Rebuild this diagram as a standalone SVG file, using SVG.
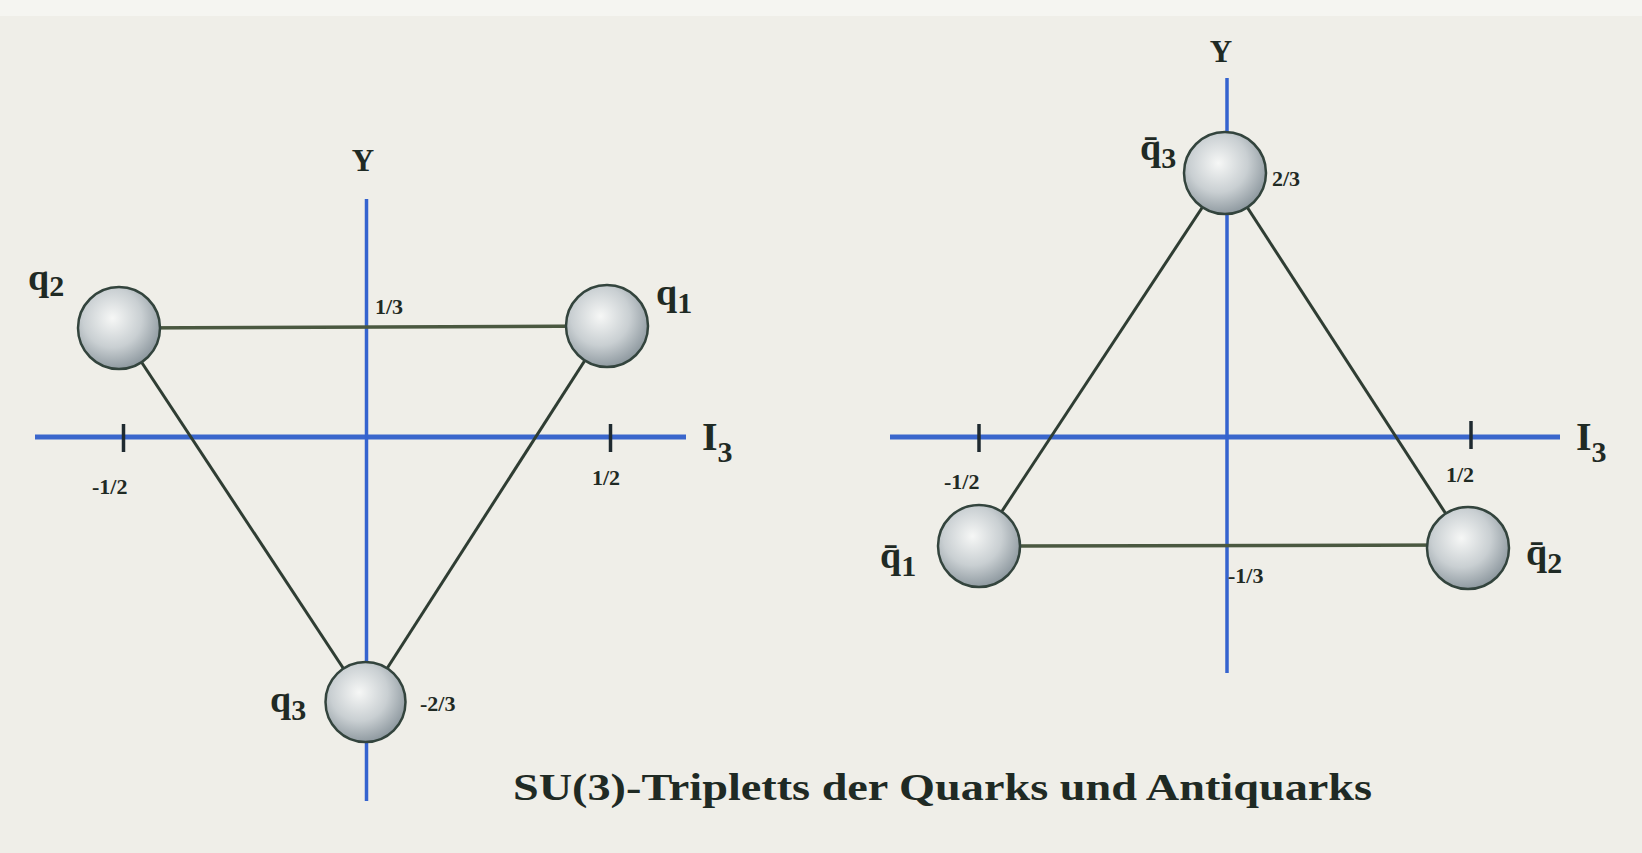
<svg xmlns="http://www.w3.org/2000/svg" width="1642" height="853" viewBox="0 0 1642 853">
<defs>
<radialGradient id="ball" cx="0.42" cy="0.38" r="0.65">
<stop offset="0" stop-color="#f6f7f6"/>
<stop offset="0.55" stop-color="#c9cfd2"/>
<stop offset="1" stop-color="#8a959c"/>
</radialGradient>
<style>
.axis{stroke:#3563cf;stroke-width:3.5;fill:none}
.axh{stroke:#3a66cc;stroke-width:5;fill:none}
.tick{stroke:#1f2a30;stroke-width:3.5}
.edge{stroke:#2f3d33;stroke-width:3;fill:none}
.hedge{stroke:#4a5840;stroke-width:3.5;fill:none}
.ball{fill:url(#ball);stroke:#33443d;stroke-width:2.5}
.lbl{font-family:"Liberation Serif","DejaVu Serif",serif;fill:#1f2a24;font-weight:bold}
.q{font-size:38px}
.sub{font-size:30px}
.num{font-size:22px}
.ax{font-size:31px}
.cap{font-size:38px}
</style>
</defs>
<rect width="1642" height="853" fill="#efeee8"/>
<rect x="0" y="0" width="1642" height="16" fill="#f5f5f1"/>

<g id="connectors">
<line class="axh" x1="35" y1="437" x2="686" y2="437"/>
<line class="axis" x1="366.5" y1="199" x2="366.5" y2="801"/>
<line class="tick" x1="123.5" y1="424" x2="123.5" y2="452"/>
<line class="tick" x1="610.5" y1="424" x2="610.5" y2="452"/>
<line class="hedge" x1="119" y1="328" x2="607" y2="326"/>
<line class="edge" x1="119" y1="328" x2="365.5" y2="702"/>
<line class="edge" x1="607" y1="326" x2="365.5" y2="702"/>
<line class="axh" x1="890" y1="437" x2="1560" y2="437"/>
<line class="axis" x1="1227" y1="78" x2="1227" y2="673"/>
<line class="tick" x1="979" y1="424" x2="979" y2="452"/>
<line class="tick" x1="1471" y1="421" x2="1471" y2="449"/>
<line class="hedge" x1="979" y1="546" x2="1468" y2="545"/>
<line class="edge" x1="1225" y1="173" x2="979" y2="546"/>
<line class="edge" x1="1225" y1="173" x2="1468" y2="548"/>
</g>

<g id="axis-labels" class="lbl">
<text class="ax" x="363" y="171" text-anchor="middle">Y</text>
<text x="702" y="450" style="font-size:40px">I<tspan class="sub" dy="12">3</tspan></text>
<text class="num" x="92" y="494">-1/2</text>
<text class="num" x="592" y="485">1/2</text>
<text class="num" x="375" y="314">1/3</text>
<text class="num" x="420" y="711">-2/3</text>
<text class="ax" x="1221" y="62" text-anchor="middle">Y</text>
<text x="1576" y="450" style="font-size:40px">I<tspan class="sub" dy="12">3</tspan></text>
<text class="num" x="944" y="489">-1/2</text>
<text class="num" x="1446" y="482">1/2</text>
<text class="num" x="1228" y="583">-1/3</text>
<text class="num" x="1272" y="186">2/3</text>
</g>

<g id="q2">
<circle class="ball" cx="119" cy="328" r="41"/>
<text class="lbl q" x="28" y="290">q<tspan class="sub" dy="6">2</tspan></text>
</g>
<g id="q1">
<circle class="ball" cx="607" cy="326" r="41"/>
<text class="lbl q" x="656" y="305">q<tspan class="sub" dy="8">1</tspan></text>
</g>
<g id="q3">
<circle class="ball" cx="365.5" cy="702" r="40"/>
<text class="lbl q" x="270" y="712">q<tspan class="sub" dy="8">3</tspan></text>
</g>
<g id="qbar3">
<circle class="ball" cx="1225" cy="173" r="41"/>
<text class="lbl q" x="1140" y="160">q̄<tspan class="sub" dy="8">3</tspan></text>
</g>
<g id="qbar1">
<circle class="ball" cx="979" cy="546" r="41"/>
<text class="lbl q" x="880" y="568">q̄<tspan class="sub" dy="8">1</tspan></text>
</g>
<g id="qbar2">
<circle class="ball" cx="1468" cy="548" r="41"/>
<text class="lbl q" x="1526" y="565">q̄<tspan class="sub" dy="8">2</tspan></text>
</g>

<g id="caption">
<text class="lbl cap" x="513" y="800" textLength="859" lengthAdjust="spacingAndGlyphs">SU(3)-Tripletts der Quarks und Antiquarks</text>
</g>
</svg>
